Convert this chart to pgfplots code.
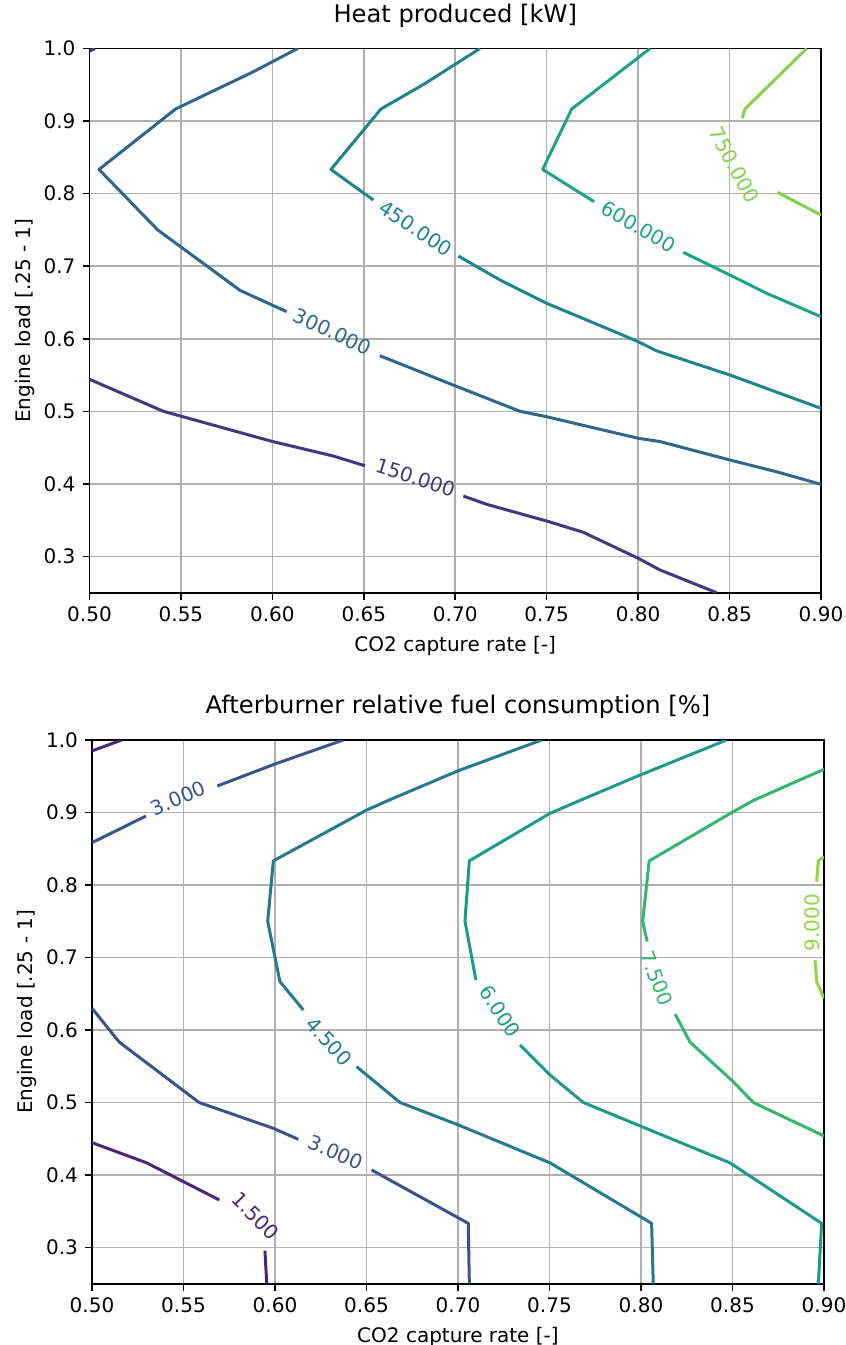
\documentclass[border=0pt]{standalone}
\usepackage{fontspec}
\setmainfont{DejaVu Sans}
\usepackage{pgfplots}
\pgfplotsset{compat=1.18}
\definecolor{gridgray}{HTML}{B0B0B0}
% top levels
\definecolor{tA}{HTML}{45367F}
\definecolor{tB}{HTML}{30668D}
\definecolor{tC}{HTML}{1E858D}
\definecolor{tD}{HTML}{1FA385}
\definecolor{tE}{HTML}{84D24C}
% bottom levels
\definecolor{bA}{HTML}{482878}
\definecolor{bB}{HTML}{3A538B}
\definecolor{bC}{HTML}{267A8E}
\definecolor{bD}{HTML}{1F998A}
\definecolor{bE}{HTML}{35B571}
\definecolor{bF}{HTML}{94D444}
\tikzset{clab/.style={font=\fontsize{10}{12}\selectfont, inner sep=0pt}}
\pgfplotsset{
  mystyle/.style={
    scale only axis,
    xmin=0.5, xmax=0.9, ymin=0.25, ymax=1.0,
    xtick={0.5,0.55,0.6,0.65,0.7,0.75,0.8,0.85,0.9},
    xticklabels={0.50,0.55,0.60,0.65,0.70,0.75,0.80,0.85,0.90},
    ytick={0.3,0.4,0.5,0.6,0.7,0.8,0.9,1.0},
    yticklabels={0.3,0.4,0.5,0.6,0.7,0.8,0.9,1.0},
    grid=major,
    major grid style={color=gridgray, line width=0.8pt},
    tick align=outside, tick pos=left,
    major tick length=3.5pt,
    every tick/.style={black, line width=0.8pt},
    axis line style={line width=0.8pt},
    ticklabel style={font=\fontsize{10}{12}\selectfont},
    label style={font=\fontsize{10}{12}\selectfont},
    title style={font=\fontsize{12.1}{14}\selectfont, at={(axis description cs:0.5,1.0265)}, anchor=base},
    xlabel={CO2 capture rate [-]},
    ylabel={Engine load [.25 - 1]},
    xlabel style={at={(axis description cs:0.5,-0.1084)}, anchor=base},
    ylabel style={at={(axis description cs:-0.0813,0.5)}, anchor=base},
    every axis plot/.append style={line width=1.5pt, mark=none, line join=round},
  },
}
\begin{document}
\begin{tikzpicture}
\useasboundingbox (0,0) rectangle (423pt,-672.5pt);
% ---------------- top -----------------
\begin{axis}[mystyle, at={(44.75pt,-296.35pt)}, anchor=south west,
  width=365.75pt, height=272.1pt, title={Heat produced [kW]}]
\addplot[tA] coordinates {(0.5,0.9965) (0.5030,1.0)};
\addplot[tA] coordinates {(0.5,0.5441) (0.5404,0.5) (0.6002,0.4583) (0.6333,0.4384) (0.6506,0.425)};
\addplot[tA] coordinates {(0.7044,0.3833) (0.7172,0.3718) (0.75,0.3488) (0.77,0.3333) (0.8001,0.2974) (0.812,0.2813) (0.843,0.25)};
\addplot[tB] coordinates {(0.6138,1.0) (0.5896,0.968) (0.5471,0.9167) (0.5052,0.8333) (0.5373,0.75) (0.5823,0.6667) (0.6078,0.6373)};
\addplot[tB] coordinates {(0.6588,0.5766) (0.6807,0.5546) (0.6989,0.5362) (0.7354,0.5) (0.75,0.4925) (0.8001,0.4628) (0.812,0.4583) (0.8502,0.4329) (0.8757,0.4167) (0.9,0.3994)};
\addplot[tC] coordinates {(0.7135,1.0) (0.6830,0.9510) (0.6594,0.9167) (0.632,0.8333) (0.6552,0.7912)};
\addplot[tC] coordinates {(0.7017,0.714) (0.7245,0.681) (0.75,0.6488) (0.7828,0.6144) (0.8001,0.5959) (0.8101,0.5833) (0.8502,0.55) (0.9,0.5041)};
\addplot[tD] coordinates {(0.8065,1.0) (0.7637,0.9167) (0.7478,0.8333) (0.7759,0.7889)};
\addplot[tD] coordinates {(0.8247,0.7191) (0.8502,0.6878) (0.8703,0.6626) (0.9,0.6304)};
\addplot[tE] coordinates {(0.8922,1.0) (0.8584,0.9167) (0.857,0.9038)};
\addplot[tE] coordinates {(0.8763,0.8018) (0.9,0.7705)};
\node[clab, text=tA, rotate=-18] at (axis cs:0.6784,0.4088) {150.000};
\node[clab, text=tB, rotate=-25] at (axis cs:0.6329,0.6097) {300.000};
\node[clab, text=tC, rotate=-33] at (axis cs:0.6784,0.7522) {450.000};
\node[clab, text=tD, rotate=-30] at (axis cs:0.8003,0.7544) {600.000};
\node[clab, text=tE, rotate=-62] at (axis cs:0.8525,0.8394) {750.000};
\end{axis}
% ---------------- bottom -----------------
\begin{axis}[mystyle, at={(46pt,-641.85pt)}, anchor=south west,
  width=366pt, height=271.85pt, title={Afterburner relative fuel consumption [\%]}]
\addplot[bA] coordinates {(0.5,0.985) (0.5162,1.0)};
\addplot[bA] coordinates {(0.5,0.4446) (0.5299,0.4167) (0.5696,0.3655)};
\addplot[bA] coordinates {(0.5945,0.2956) (0.5955,0.25)};
\addplot[bB] coordinates {(0.5,0.8584) (0.5295,0.8952)};
\addplot[bB] coordinates {(0.5685,0.9366) (0.6,0.9669) (0.6373,1.0)};
\addplot[bB] coordinates {(0.5,0.63) (0.5149,0.5833) (0.5585,0.5) (0.5991,0.4644) (0.6127,0.4492)};
\addplot[bB] coordinates {(0.6528,0.4069) (0.7056,0.3333) (0.7062,0.25)};
\addplot[bC] coordinates {(0.7457,1.0) (0.7002,0.9577) (0.6619,0.9167) (0.6501,0.9034) (0.5991,0.8333) (0.596,0.75) (0.6027,0.6667) (0.6155,0.6276)};
\addplot[bC] coordinates {(0.6446,0.5494) (0.6683,0.5) (0.7002,0.469) (0.7503,0.4167) (0.8058,0.3333) (0.8067,0.25)};
\addplot[bD] coordinates {(0.8468,1.0) (0.7995,0.9517) (0.7667,0.9167) (0.7503,0.8989) (0.7062,0.8333) (0.7038,0.75) (0.7098,0.669)};
\addplot[bD] coordinates {(0.7339,0.5793) (0.7503,0.5379) (0.7685,0.5) (0.8004,0.4667) (0.8486,0.4167) (0.8987,0.3333) (0.8969,0.25)};
\addplot[bE] coordinates {(0.9,0.9596) (0.8614,0.9167) (0.8504,0.9011) (0.8045,0.8333) (0.8009,0.75) (0.8034,0.7218)};
\addplot[bE] coordinates {(0.8186,0.6221) (0.8268,0.5833) (0.8504,0.5287) (0.8614,0.5) (0.9,0.4538)};
\addplot[bF] coordinates {(0.9,0.839) (0.8969,0.8333) (0.896,0.8046)};
\addplot[bF] coordinates {(0.8951,0.6966) (0.896,0.6667) (0.9,0.6437)};
\node[clab, text=bB, rotate=23] at (axis cs:0.5472,0.9196) {3.000};
\node[clab, text=bC, rotate=-47] at (axis cs:0.6295,0.5839) {4.500};
\node[clab, text=bB, rotate=-23] at (axis cs:0.6332,0.4313) {3.000};
\node[clab, text=bA, rotate=-45] at (axis cs:0.5895,0.3439) {1.500};
\node[clab, text=bD, rotate=-56] at (axis cs:0.723,0.6253) {6.000};
\node[clab, text=bE, rotate=-69] at (axis cs:0.8086,0.6713) {7.500};
\node[clab, text=bF, rotate=90] at (axis cs:0.8933,0.7483) {9.000};
\end{axis}
\end{tikzpicture}
\end{document}
